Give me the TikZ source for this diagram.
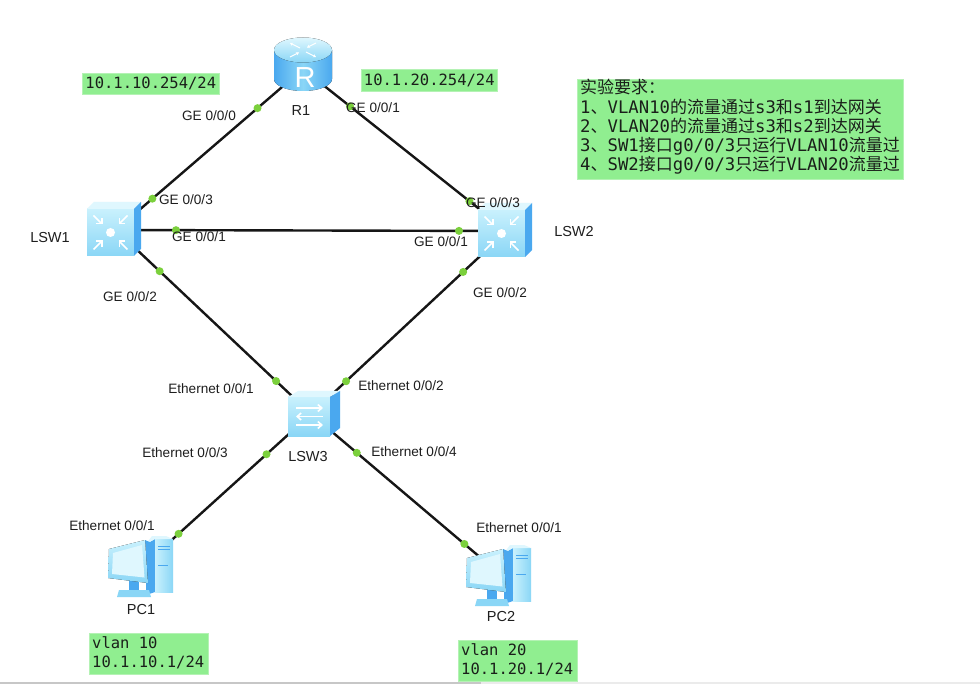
\documentclass[tikz,border=0pt]{standalone}
\usepackage{fontspec}
\setmainfont{Liberation Sans}
\setmonofont{DejaVu Sans Mono}
\newfontfamily\cjkfont{Noto Sans CJK SC}
\usetikzlibrary{calc,arrows.meta}
\definecolor{gbg}{HTML}{90EE90}
\definecolor{gedge}{HTML}{B4F2B4}
\definecolor{linkc}{HTML}{161616}
\definecolor{dotc}{HTML}{7BD03C}
\definecolor{txtc}{HTML}{1E1E1E}
\definecolor{boxtxt}{HTML}{1A1F1A}
\definecolor{icdark}{HTML}{4AA8EF}
\definecolor{icmid}{HTML}{8AD6F6}
\definecolor{iclight}{HTML}{C9F1FD}
\definecolor{ictop}{HTML}{DFF7FE}
\newcommand\reqzh[1]{{\cjkfont\fontsize{17}{19}\selectfont #1}}
\newcommand\reqmo[1]{{\ttfamily\fontsize{17.3}{19}\selectfont #1}}
\tikzset{
  devpt/.style={inner sep=0pt, minimum size=1pt},
  netline/.style={draw=linkc, line width=2.4pt},
  portlbl/.style={inner sep=0pt, text=txtc, font=\fontsize{13.6}{14}\selectfont, text height=9.8pt, text depth=0pt},
  devlbl/.style={inner sep=0pt, text=txtc, font=\fontsize{14.5}{15}\selectfont, text height=10.4pt, text depth=0pt},
  gbox/.style={fill=gbg, draw=gedge, line width=0.6pt, inner sep=0pt},
  monotxt/.style={inner sep=0pt, text=boxtxt, font=\ttfamily\fontsize{15.5}{18}\selectfont},
  reqtxt/.style={inner sep=0pt, text=boxtxt, anchor=base west},
  wht/.style={draw=white, line width=1.6pt},
  pics/router/.style={code={
    \fill[left color=icdark, right color=icdark, middle color=icmid]
      (-29,-19) -- (-29,10) arc[start angle=180, end angle=360, x radius=29pt, y radius=12pt] -- (29,-19) -- cycle;
    \fill[top color=ictop, bottom color=icmid] (0,-19) ellipse[x radius=29pt, y radius=12.5pt];
    \node[inner sep=0pt, text=white, font=\fontsize{29}{29}\selectfont] at (2,9) {R};
    \draw[draw=white, line width=1.1pt, -{Stealth[length=3pt,width=3.5pt]}] (-3,-21) -- (-13,-26);
    \draw[draw=white, line width=1.1pt, -{Stealth[length=3pt,width=3.5pt]}] (3,-17) -- (13,-12);
    \draw[draw=white, line width=1.1pt, -{Stealth[length=3pt,width=3.5pt]}] (13,-26) -- (4,-21.5);
    \draw[draw=white, line width=1.1pt, -{Stealth[length=3pt,width=3.5pt]}] (-13,-12) -- (-4,-16.5);
  }},
  pics/lthree/.style={code={
    \fill[top color=iclight, bottom color=icmid] (-29,-21) rectangle (18,26);
    \fill[ictop] (-29,-21) -- (-22,-28) -- (25,-28) -- (18,-21) -- cycle;
    \fill[icdark] (18,-21) -- (25,-28) -- (25,19) -- (18,26) -- cycle;
    \fill[white] (-5.5,2.5) circle (4.5pt);
    \foreach \dx/\dy in {-1/-1, 1/-1, -1/1, 1/1}{
      \draw[wht, -{Straight Barb[length=4pt,width=8pt]}] (-5.5+17*\dx, 2.5+17*\dy) -- (-5.5+8*\dx, 2.5+8*\dy);
    }
  }},
  pics/ltwo/.style={code={
    \fill[top color=iclight, bottom color=icmid] (-23,-17) rectangle (19,22);
    \fill[ictop] (-23,-17) -- (-13,-23) -- (29,-23) -- (19,-17) -- cycle;
    \fill[icdark] (19,-17) -- (29,-23) -- (29,14) -- (19,22) -- cycle;
    \draw[wht, -{Straight Barb[length=4pt,width=7pt]}] (-15,-6) -- (12,-6);
    \draw[wht, -{Straight Barb[length=4pt,width=7pt]}] (12,2.5) -- (-15,2.5);
    \draw[wht, -{Straight Barb[length=4pt,width=7pt]}] (-15,11) -- (12,11);
  }},
  pics/pc/.style={code={
    \begin{scope}[shift={(-35,-31)}]
      \fill[icdark] (38,9) -- (47,4) -- (47,57) -- (38,60) -- cycle;
      \fill[left color=iclight, right color=icmid] (47,4) rectangle (65,57);
      \fill[ictop] (38,9) -- (47,4) -- (65,4) -- (58,1) -- (44,1) -- cycle;
      \draw[draw=icdark, line width=0.8pt] (50,11) -- (62,11) (50,14) -- (62,14) (50,30) -- (60,30);
      \fill[icdark] (21,44) rectangle (31,55);
      \fill[icmid] (11,55) -- (41,55) -- (43,62) -- (9,62) -- cycle;
      \fill[icdark] (37,5) -- (44,8) -- (47,49) -- (40,48) -- cycle;
      \fill[top color=iclight, bottom color=icmid] (1,14) -- (37,5) -- (40,48) -- (0,43) -- cycle;
      \fill[ictop] (5,18) -- (34,10) -- (36.5,42.5) -- (4,39) -- cycle;
    \end{scope}
  }}
}
\begin{document}
\begin{tikzpicture}[x=1pt, y=-1pt]
\fill[white] (0,0) rectangle (980,684);
\useasboundingbox (0,0) rectangle (980,684);
\fill[black!22] (0,681.5) rectangle (481,684);
\fill[black!8] (481,681.5) rectangle (980,684);

% device anchor points
\node[devpt] (r1) at (303,69) {};
\node[devpt] (lsw1) at (116,230) {};
\node[devpt] (lsw2) at (507,231) {};
\node[devpt] (lsw3) at (311,414) {};
\node[devpt] (pc1) at (143,566) {};
\node[devpt] (pc2) at (501,575) {};

% links
\foreach \a/\b in {r1/lsw1, r1/lsw2, lsw1/lsw2, lsw1/lsw3, lsw2/lsw3, lsw3/pc1, lsw3/pc2}{
  \draw[netline] (\a.center) -- (\b.center);
}

% icons
\pic at (r1) {router};
\pic at (lsw1) {lthree};
\pic at (lsw2) {lthree};
\pic at (lsw3) {ltwo};
\pic at (pc1) {pc};
\pic at (pc2) {pc};

% port dots
\foreach \a/\b in {r1/lsw1, r1/lsw2, lsw1/lsw2, lsw1/lsw3, lsw2/lsw3, lsw3/pc1, lsw3/pc2}{
  \fill[dotc] ($(\a.center)!60pt!(\b.center)$) circle (4pt);
  \fill[dotc] ($(\b.center)!48pt!(\a.center)$) circle (4pt);
}

% device labels
\node[devlbl] (r1l) at (301,110) {R1};
\node[devlbl] (lsw1l) at (50,237) {LSW1};
\node[devlbl] (lsw2l) at (574,231) {LSW2};
\node[devlbl] (lsw3l) at (308,456) {LSW3};
\node[devlbl] (pc1l) at (141,609) {PC1};
\node[devlbl] (pc2l) at (501,616) {PC2};

% port labels
\node[portlbl] (p1) at (209,116) {GE 0/0/0};
\node[portlbl] (p2) at (186,200) {GE 0/0/3};
\node[portlbl] (p3) at (373,108) {GE 0/0/1};
\node[portlbl] (p4) at (493,203) {GE 0/0/3};
\node[portlbl] (p5) at (199,237) {GE 0/0/1};
\node[portlbl] (p6) at (441,242) {GE 0/0/1};
\node[portlbl] (p7) at (130,297) {GE 0/0/2};
\node[portlbl] (p8) at (500,293) {GE 0/0/2};
\node[portlbl] (p9) at (211,389) {Ethernet 0/0/1};
\node[portlbl] (p10) at (401,386) {Ethernet 0/0/2};
\node[portlbl] (p11) at (185,453) {Ethernet 0/0/3};
\node[portlbl] (p12) at (414,452) {Ethernet 0/0/4};
\node[portlbl] (p13) at (112,526) {Ethernet 0/0/1};
\node[portlbl] (p14) at (519,528) {Ethernet 0/0/1};

% green boxes
\node[gbox, anchor=north west, minimum width=137pt, minimum height=21pt, text=boxtxt, font=\ttfamily\fontsize{15.5}{18}\selectfont] (ip1) at (82,73) {10.1.10.254/24};
\node[gbox, anchor=north west, minimum width=136pt, minimum height=22pt, text=boxtxt, font=\ttfamily\fontsize{15.5}{18}\selectfont] (ip2) at (361,69) {10.1.20.254/24};

\node[gbox, anchor=north west, minimum width=119pt, minimum height=41pt] (v10) at (89,633) {};
\node[monotxt, anchor=base west] (v10a) at (92,648.5) {vlan 10};
\node[monotxt, anchor=base west] (v10b) at (92,667.5) {10.1.10.1/24};

\node[gbox, anchor=north west, minimum width=119pt, minimum height=41pt] (v20) at (458,640) {};
\node[monotxt, anchor=base west] (v20a) at (461,655.5) {vlan 20};
\node[monotxt, anchor=base west] (v20b) at (461,674.5) {10.1.20.1/24};

\node[gbox, anchor=north west, minimum width=326pt, minimum height=100pt] (req) at (577,79) {};
\node[reqtxt] (rq1) at (580,94) {\reqzh{实验要求：}};
\node[reqtxt] (rq2) at (580,113.2) {\reqmo{1}\reqzh{、}\reqmo{VLAN10}\reqzh{的流量通过}\reqmo{s3}\reqzh{和}\reqmo{s1}\reqzh{到达网关}};
\node[reqtxt] (rq3) at (580,132.4) {\reqmo{2}\reqzh{、}\reqmo{VLAN20}\reqzh{的流量通过}\reqmo{s3}\reqzh{和}\reqmo{s2}\reqzh{到达网关}};
\node[reqtxt] (rq4) at (580,151.6) {\reqmo{3}\reqzh{、}\reqmo{SW1}\reqzh{接口}\reqmo{g0/0/3}\reqzh{只运行}\reqmo{VLAN10}\reqzh{流量过}};
\node[reqtxt] (rq5) at (580,170.8) {\reqmo{4}\reqzh{、}\reqmo{SW2}\reqzh{接口}\reqmo{g0/0/3}\reqzh{只运行}\reqmo{VLAN20}\reqzh{流量过}};
\end{tikzpicture}
\end{document}
